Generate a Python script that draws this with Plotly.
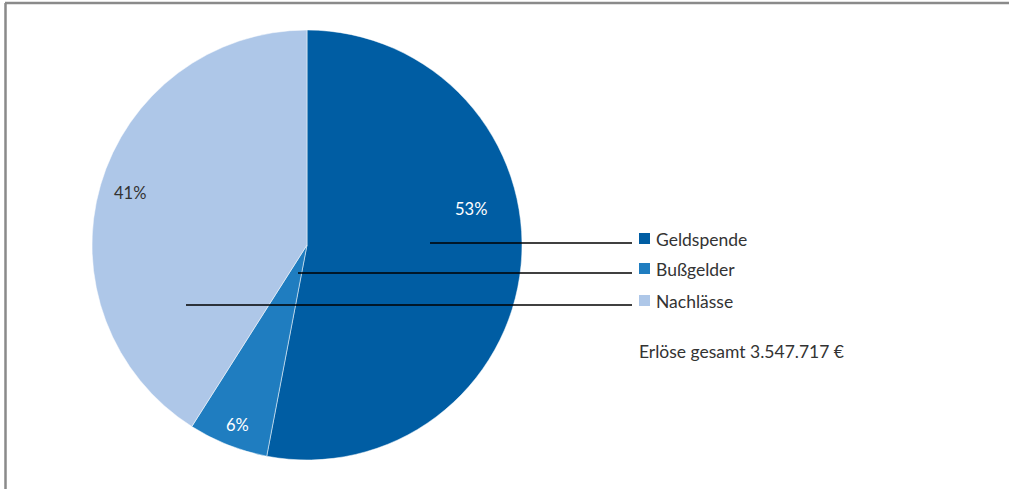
import plotly.graph_objects as go

categories = ["Geldspende", "Bußgelder", "Nachlässe"]
values = [53, 6, 41]
colors = ["#005DA3", "#1F7DC0", "#AEC7E8"]
label_colors = ["#FFFFFF", "#FFFFFF", "#333333"]
total_text = "Erlöse gesamt 3.547.717 €"

W, H = 1009, 489
FONT = "Lato"

def px(x):
    return x / W

def py(y):
    return 1 - y / H

fig = go.Figure()
fig.add_trace(go.Pie(
    labels=categories,
    values=values,
    sort=False,
    direction="clockwise",
    rotation=0,
    marker=dict(colors=colors, line=dict(color="#FFFFFF", width=0.5)),
    textinfo="none",
    hoverinfo="label+percent",
    showlegend=False,
    domain=dict(x=[px(92), px(522)], y=[py(460), py(30)]),
))

shapes = []
annotations = []

# frame lines (top and left)
shapes.append(dict(type="line", xref="paper", yref="paper",
                   x0=px(5), x1=1, y0=py(3), y1=py(3),
                   line=dict(color="#8A8A8A", width=2.5)))
shapes.append(dict(type="line", xref="paper", yref="paper",
                   x0=px(5.5), x1=px(5.5), y0=py(3), y1=0,
                   line=dict(color="#8A8A8A", width=2.5)))

# slice labels
label_pos = [(471, 209), (237, 425), (130, 193)]
for v, (lx, ly), c in zip(values, label_pos, label_colors):
    annotations.append(dict(x=px(lx), y=py(ly), xref="paper", yref="paper",
                            text=f"{v}%", showarrow=False,
                            xanchor="center", yanchor="middle",
                            font=dict(family=FONT, size=16.5, color=c)))

# leader lines + custom legend
leader_start = [430, 298, 186]
legend_y = [243, 273, 305]
for cat, col, xs, ly in zip(categories, colors, leader_start, legend_y):
    shapes.append(dict(type="line", xref="paper", yref="paper",
                       x0=px(xs), x1=px(632), y0=py(ly), y1=py(ly),
                       line=dict(color="#000000", width=1.5)))
    shapes.append(dict(type="rect", xref="paper", yref="paper",
                       x0=px(639), x1=px(650), y0=py(ly - 10), y1=py(ly + 1),
                       fillcolor=col, line=dict(width=0)))
    annotations.append(dict(x=px(654), y=py(ly - 4), xref="paper", yref="paper",
                            text=cat, showarrow=False,
                            xanchor="left", yanchor="middle",
                            font=dict(family=FONT, size=17.5, color="#333333")))

annotations.append(dict(x=px(637), y=py(351), xref="paper", yref="paper",
                        text=total_text, showarrow=False,
                        xanchor="left", yanchor="middle",
                        font=dict(family=FONT, size=17.5, color="#333333")))

fig.update_layout(
    width=W, height=H,
    margin=dict(l=0, r=0, t=0, b=0),
    paper_bgcolor="#FFFFFF",
    plot_bgcolor="#FFFFFF",
    shapes=shapes,
    annotations=annotations,
)

fig.write_html("out.html",
               config={"displayModeBar": False},
               post_script="document.body.style.margin='0';document.body.style.overflow='hidden';")
